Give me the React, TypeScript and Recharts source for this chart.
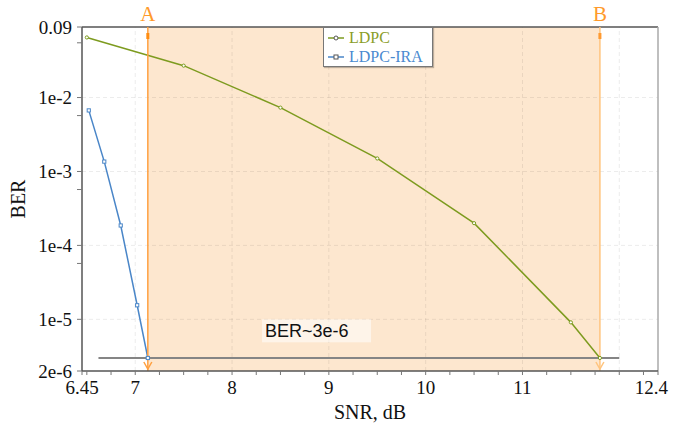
import React from "react";
import {
  LineChart,
  Line,
  XAxis,
  YAxis,
  ReferenceArea,
  ReferenceLine,
  ReferenceDot,
} from "recharts";

// LDPC, olive curve
const snrLdpc = [6.5, 7.5, 8.5, 9.5, 10.5, 11.5, 11.8];
const berLdpc = [0.065, 0.027, 0.0073, 0.0015, 0.0002, 0.0000091, 0.000003];

// LDPC-IRA, blue curve
const snrIra = [6.52, 6.68, 6.85, 7.02, 7.13];
const berIra = [0.0067, 0.00136, 0.000186, 0.0000155, 0.000003];

const seriesNames = ["LDPC", "LDPC-IRA"];

const xMajorTicks = [6.45, 7, 8, 9, 10, 11, 12.4];
const xMinorTicks = [
  6.5, 6.75, 7.25, 7.5, 7.75, 8.25, 8.5, 8.75, 9.25, 9.5, 9.75, 10.25, 10.5,
  10.75, 11.25, 11.5, 11.75, 12, 12.25,
];
const xGrid = [7, 8, 9, 10, 11, 12];

const yMajorTicks = [0.000002, 0.00001, 0.0001, 0.001, 0.01, 0.09];
const yMajorLabels = ["2e-6", "1e-5", "1e-4", "1e-3", "1e-2", "0.09"];
const yMinorTicks = [0.000057, 0.00057, 0.0057, 0.055];
const yGrid = [0.00001, 0.0001, 0.001, 0.01];

const regionA = 7.13;
const regionB = 11.8;
const berLimit = 0.000003;
const berLimitFrom = 6.62;
const berLimitTo = 12.0;
const berLabel = "BER~3e-6";
const berLabelAt = { x: 8.31, y: 0.00001 };

const ldpcData = snrLdpc.map((s, i) => ({ snr: s, ber: berLdpc[i] }));
const iraData = snrIra.map((s, i) => ({ snr: s, ber: berIra[i] }));

const SERIF = "'Liberation Serif', 'Times New Roman', serif";
const GREEN = "#7d9b1f";
const BLUE = "#4a86c8";

const XTick = (props: any) => {
  const { x, y, payload } = props;
  const v = payload.value;
  const idx = xMajorTicks.indexOf(v);
  const last = idx === xMajorTicks.length - 1;
  return (
    <g>
      <line x1={x} y1={y} x2={x} y2={y + 4} stroke="#777" />
      {idx >= 0 && (
        <text
          x={last ? x + 10 : x}
          y={y + 16}
          textAnchor={last ? "end" : "middle"}
          dominantBaseline="central"
          fontFamily={SERIF}
          fontSize={19}
          fill="#111"
        >
          {v}
        </text>
      )}
    </g>
  );
};

const YTick = (props: any) => {
  const { x, y, payload } = props;
  const idx = yMajorTicks.indexOf(payload.value);
  return (
    <g>
      <line x1={x - 5} y1={y} x2={x} y2={y} stroke="#777" />
      {idx >= 0 && (
        <text
          x={x - 10}
          y={y}
          textAnchor="end"
          dominantBaseline="central"
          fontFamily={SERIF}
          fontSize={19}
          fill="#111"
        >
          {yMajorLabels[idx]}
        </text>
      )}
    </g>
  );
};

const makeBound = (color: string, mark: string) => (props: any) => {
  const { x1, y1, x2, y2 } = props;
  const top = Math.min(y1, y2);
  const bottom = Math.max(y1, y2);
  const x = x1;
  return (
    <g>
      <line x1={x} y1={top} x2={x2} y2={bottom} stroke={color} strokeWidth={1.5} />
      <rect x={x - 1.5} y={top + 6} width={3} height={6} fill={mark} />
      <path
        d={`M${x - 4},${bottom - 9} L${x},${bottom - 2} L${x + 4},${bottom - 9}`}
        fill="none"
        stroke={color}
        strokeWidth={1.5}
      />
    </g>
  );
};

const boundLabel = (text: string) => (props: any) => {
  const { viewBox } = props;
  return (
    <text
      x={viewBox.x}
      y={viewBox.y - 6}
      textAnchor="middle"
      fontFamily={SERIF}
      fontSize={21}
      fill="#ff9a2a"
    >
      {text}
    </text>
  );
};

const Dot = (shape: "circle" | "square", color: string) => (props: any) => {
  const { cx, cy, index } = props;
  if (cx == null || cy == null) return <g key={index} />;
  return shape === "circle" ? (
    <circle key={index} cx={cx} cy={cy} r={1.6} fill="#fff" stroke={color} strokeWidth={1} />
  ) : (
    <rect key={index} x={cx - 1.6} y={cy - 1.6} width={3.2} height={3.2} fill="#fff" stroke={color} strokeWidth={1} />
  );
};

const BerNote = (props: any) => {
  const { cx, cy } = props;
  return (
    <g>
      <rect x={cx} y={cy} width={109} height={23} fill="#fff" fillOpacity={0.55} />
      <text
        x={cx + 3}
        y={cy + 18}
        fontFamily="'Liberation Sans', Arial, sans-serif"
        fontSize={18}
        fill="#111"
      >
        {berLabel}
      </text>
    </g>
  );
};

export default function App() {
  return (
    <div style={{ position: "absolute", left: 0, top: 0, width: 673, height: 426, background: "#fff" }}>
      <LineChart
        width={673}
        height={426}
        margin={{ top: 27, right: 15, bottom: 25, left: 0 }}
      >
        <XAxis
          type="number"
          dataKey="snr"
          domain={[6.45, 12.4]}
          allowDataOverflow
          ticks={[...xMajorTicks, ...xMinorTicks]}
          interval={0}
          tick={XTick}
          tickSize={0}
          tickMargin={0}
          tickLine={false}
          height={30}
          axisLine={{ stroke: "#555", strokeWidth: 1.5 }}
          label={{
            value: "SNR, dB",
            position: "insideBottom",
            offset: -18,
            style: { fontFamily: SERIF, fontSize: 20, fill: "#111" },
          }}
        />
        <YAxis
          type="number"
          dataKey="ber"
          scale="log"
          domain={[0.000002, 0.09]}
          allowDataOverflow
          ticks={[...yMajorTicks, ...yMinorTicks]}
          interval={0}
          tick={YTick}
          tickSize={0}
          tickMargin={0}
          tickLine={false}
          width={82}
          axisLine={{ stroke: "#555", strokeWidth: 1.5 }}
          label={{
            value: "BER",
            angle: -90,
            position: "insideLeft",
            offset: 18,
            style: { fontFamily: SERIF, fontSize: 20, fill: "#111", textAnchor: "middle" },
          }}
        />
        <ReferenceArea x1={regionA} x2={regionB} fill="#fde7cf" fillOpacity={1} stroke="none" />
        {xGrid.map((v) => (
          <ReferenceLine key={"gx" + v} x={v} stroke="rgba(0,0,0,0.08)" strokeDasharray="4 3" />
        ))}
        {yGrid.map((v) => (
          <ReferenceLine key={"gy" + v} y={v} stroke="rgba(0,0,0,0.08)" strokeDasharray="4 3" />
        ))}
        <ReferenceLine y={0.09} stroke="#555" strokeWidth={1.5} />
        <ReferenceLine x={12.4} stroke="#aaa" strokeWidth={1.5} />
        <ReferenceLine
          segment={[
            { x: berLimitFrom, y: berLimit },
            { x: berLimitTo, y: berLimit },
          ]}
          stroke="#858585"
          strokeWidth={2}
        />
        <ReferenceDot x={berLabelAt.x} y={berLabelAt.y} r={0} shape={BerNote} />
        <Line
          data={ldpcData}
          dataKey="ber"
          name={seriesNames[0]}
          stroke={GREEN}
          strokeWidth={1.5}
          dot={Dot("circle", GREEN)}
          isAnimationActive={false}
        />
        <Line
          data={iraData}
          dataKey="ber"
          name={seriesNames[1]}
          stroke={BLUE}
          strokeWidth={1.5}
          dot={Dot("square", BLUE)}
          isAnimationActive={false}
        />
        <ReferenceLine
          x={regionA}
          shape={makeBound("#ffa040", "#ff8c10")}
          label={boundLabel("A")}
        />
        <ReferenceLine
          x={regionB}
          shape={makeBound("#ffc47e", "#ff9a30")}
          label={boundLabel("B")}
        />
      </LineChart>
      <div
        style={{
          position: "absolute",
          left: 323,
          top: 27,
          width: 110,
          height: 40,
          background: "#fff",
          border: "1px solid #777",
          boxShadow: "1px 1px 1px rgba(0,0,0,0.25)",
          fontFamily: SERIF,
          fontSize: 16,
          boxSizing: "border-box",
        }}
      >
        {[GREEN, BLUE].map((c, i) => (
          <div
            key={i}
            style={{ position: "absolute", left: 4, top: 1 + i * 19, height: 18, display: "flex", alignItems: "center" }}
          >
            <svg width={18} height={10}>
              <line x1={0} y1={5} x2={16} y2={5} stroke={c} strokeWidth={1.5} />
              {i === 0 ? (
                <circle cx={8} cy={5} r={2} fill="#fff" stroke="#555" />
              ) : (
                <rect x={6} y={3} width={4} height={4} fill="#fff" stroke="#555" />
              )}
            </svg>
            <span style={{ color: i === 0 ? "#8a9d28" : "#4a8ad0", marginLeft: 3 }}>{seriesNames[i]}</span>
          </div>
        ))}
      </div>
    </div>
  );
}
